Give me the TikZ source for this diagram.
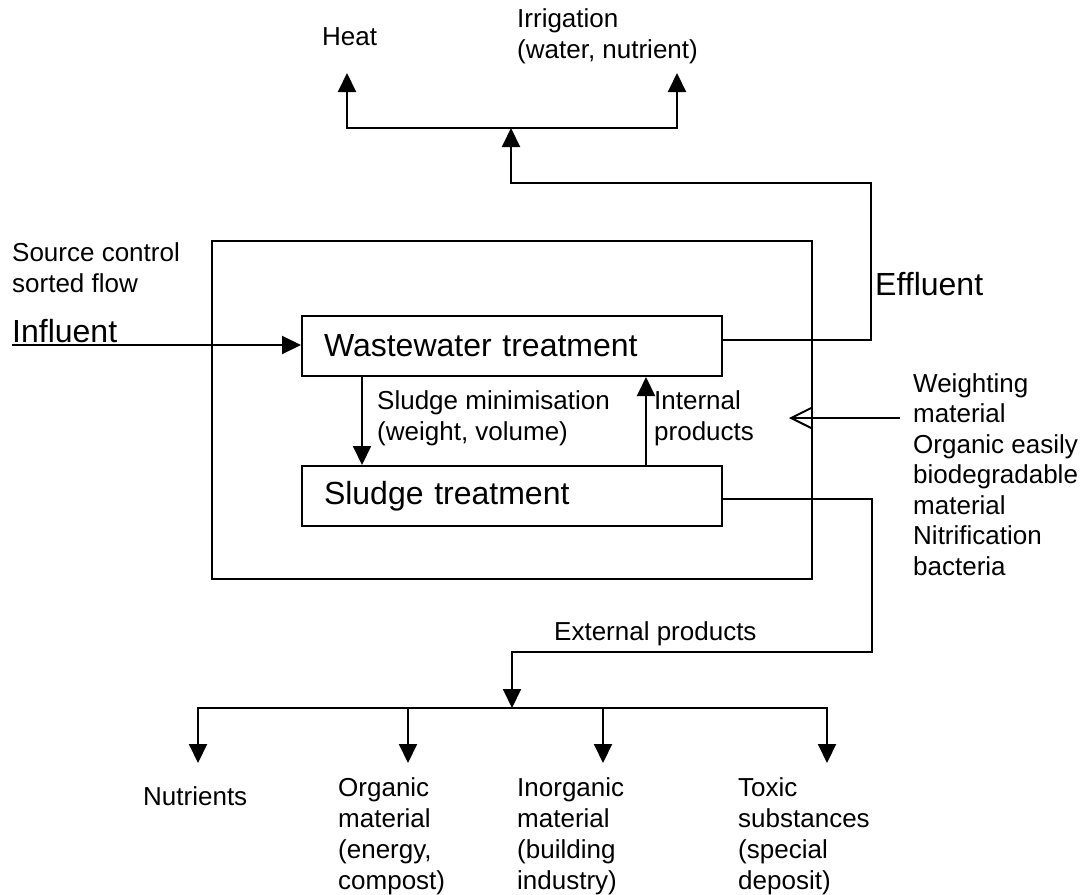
\documentclass[tikz,border=0pt]{standalone}
\usepackage{fontspec}
\setmainfont{Liberation Sans}
\usetikzlibrary{arrows.meta}
\tikzset{
  line/.style={line width=2pt},
  flow/.style={line width=2pt, -{Triangle[length=19pt,width=18pt]}},
  unit/.style={draw, line width=2pt, anchor=north west, minimum width=420pt, minimum height=60pt,
    text width=376pt, inner xsep=22pt, align=left, font=\fontsize{32}{36}\selectfont},
  lbl/.style={anchor=base west, inner sep=0pt, align=left, font=\fontsize{26}{30.5}\selectfont},
  biglbl/.style={anchor=base west, inner sep=0pt, font=\fontsize{32}{36}\selectfont},
}
\begin{document}
\begin{tikzpicture}[x=1pt,y=-1pt]
	\useasboundingbox (0,0) rectangle (1083,894);
	% plant and treatment units
	\node[draw, line width=2pt, anchor=north west, minimum width=600pt, minimum height=338pt] (plant) at (211,240) {};
	\node[unit] (ww) at (301,315) {Wastewater treatment};
	\node[unit] (sl) at (301,465) {Sludge treatment};
	% labels (multi-line ones placed by their last line)
	\node[lbl] (heat) at (322,45) {Heat};
	\node[lbl] (irrig) at (517,58) {Irrigation\\(water, nutrient)};
	\node[lbl] (source) at (12,292) {Source control\\sorted flow};
	\node[biglbl] (influent) at (12,342) {Influent};
	\node[biglbl] (effluent) at (875,295) {Effluent};
	\node[lbl] (minim) at (377,440) {Sludge minimisation\\(weight, volume)};
	\node[lbl] (internal) at (654,440) {Internal\\products};
	\node[lbl] (weight) at (913,575) {Weighting\\material\\Organic easily\\biodegradable\\material\\Nitrification\\bacteria};
	\node[lbl] (extprod) at (554,640) {External products};
	\node[lbl] (nutr) at (143,805) {Nutrients};
	\node[lbl, font=\fontsize{26}{31}\selectfont] (organic) at (338,889) {Organic\\material\\(energy,\\compost)};
	\node[lbl, font=\fontsize{26}{31}\selectfont] (inorganic) at (517,889) {Inorganic\\material\\(building\\industry)};
	\node[lbl, font=\fontsize{26}{31}\selectfont] (toxic) at (738,889) {Toxic\\substances\\(special\\deposit)};
	% bends and arrow ends
	\coordinate (inflow) at (12,345);
	\coordinate (effbend) at (871,183);
	\coordinate (topjoin) at (511,128);
	\coordinate (heattip) at (347,73);
	\coordinate (irrigtip) at (677,73);
	\coordinate (extbend) at (872,652);
	\coordinate (extjoin) at (512,708);
	\coordinate (nutrtip) at (198,763);
	\coordinate (orgtip) at (408,763);
	\coordinate (inorgtip) at (603,763);
	\coordinate (toxtip) at (827,763);
	\coordinate (wstart) at (900,418);
	\coordinate (wtip) at (789,418);
	% connectors
	\draw[flow] (inflow) -- (inflow -| ww.west);
	\draw[flow] ([yshift=6pt]ww.east) -| (effbend) -| (topjoin);
	\draw[flow] (topjoin) -| (heattip);
	\draw[flow] (topjoin) -| (irrigtip);
	\draw[flow] ([xshift=61pt]ww.south west) -- ([xshift=61pt]sl.north west);
	\draw[flow] ([xshift=345pt]sl.north west) -- ([xshift=345pt]ww.south west);
	\draw[line, -{Straight Barb[length=21pt,width=21pt]}] (wstart) -- (wtip);
	\draw[flow] ([yshift=-3pt]sl.east) -| (extbend) -| (extjoin);
	\foreach \t in {nutrtip,orgtip,inorgtip,toxtip}
		\draw[flow] (extjoin) -| (\t);
\end{tikzpicture}
\end{document}
